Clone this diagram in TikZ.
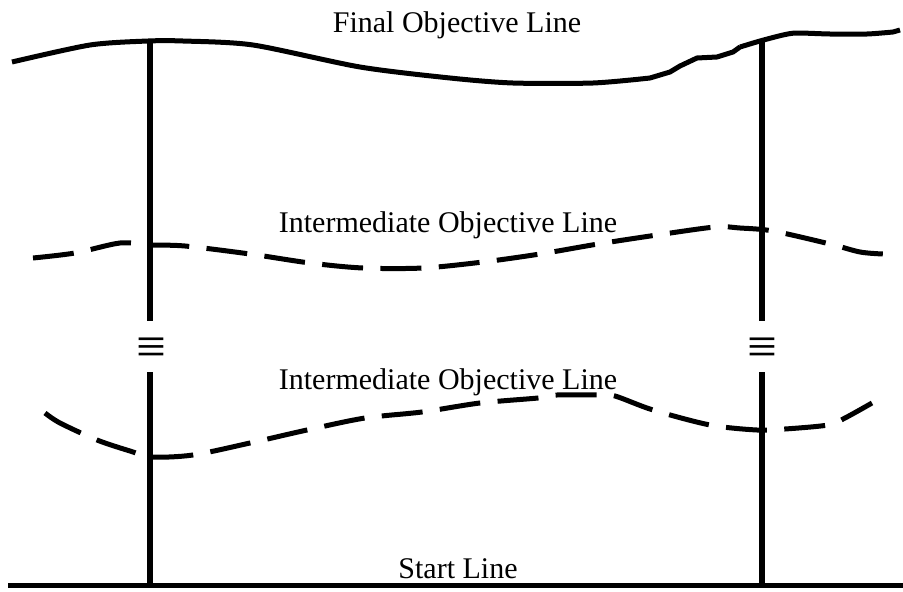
\documentclass[tikz,border=0pt]{standalone}
\usepackage{fontspec}
\setmainfont{Liberation Serif}
\begin{document}
\begin{tikzpicture}[x=1pt,y=-1pt,
  thickline/.style={line width=5pt,line join=round},
  dashline/.style={line width=5pt,dash pattern=on 41pt off 17.4pt},
  label/.style={font=\fontsize{30}{36}\selectfont,inner sep=0pt,anchor=base},
  eqv/.style={font=\fontsize{53}{53}\selectfont,inner sep=0pt}]
\useasboundingbox (0,0) rectangle (903,592);
% final objective line
\draw[thickline] plot[smooth,tension=0.45] coordinates {(12,62) (90,45) (148,41) (183,41) (253,45) (360,67) (450,78) (513,83) (593,83) (650,78)}
  -- (670,72) -- (680,66) -- (697,58) -- (717,57) -- (733,52) -- (740,47)
  plot[smooth,tension=0.45] coordinates {(740,47) (760,41) (783,35) (797,33) (830,34) (867,34) (893,32)} -- (900,30);
% intermediate lines
\draw[dashline] plot[smooth,tension=0.5] coordinates {(33,258) (75,253) (120,243) (150,245) (185,246) (250,254) (310,263) (363,268) (423,268) (483,262) (540,254) (598,244) (657,235) (715,227) (740,228) (773,231) (830,244) (860,252) (883,254)};
\draw[dashline] plot[smooth,tension=0.5] coordinates {(45,413) (60,423) (97,440) (130,451) (152,457) (193,455) (250,443) (307,430) (365,418) (422,412) (480,403) (538,398) (557,395) (598,395) (615,396) (653,410) (710,425) (757,430) (785,429) (828,425) (845,418) (872,403)};
% start line
\coordinate (sl) at (8,585);
\coordinate (sr) at (903,585);
\draw[line width=5pt] (sl) -- (sr);
% vertical lines
\node[eqv] (eqL) at (151,351) {≡};
\node[eqv] (eqR) at (762,351) {≡};
\coordinate (lt) at (150,39);
\coordinate (lb) at (150,587);
\coordinate (rt) at (762,39);
\coordinate (rb) at (762,587);
\draw[line width=5.5pt] (lt) -- (150,321);
\draw[line width=5.5pt] (150,372) -- (lb);
\draw[line width=5.5pt] (rt) -- (762,321);
\draw[line width=5.5pt] (762,372) -- (rb);
% labels
\node[label] (fin) at (457,32) {Final Objective Line};
\node[label] (im1) at (448,232) {Intermediate Objective Line};
\node[label] (im2) at (448,389) {Intermediate Objective Line};
\node[label] (st) at (458,578) {Start Line};
\end{tikzpicture}
\end{document}
